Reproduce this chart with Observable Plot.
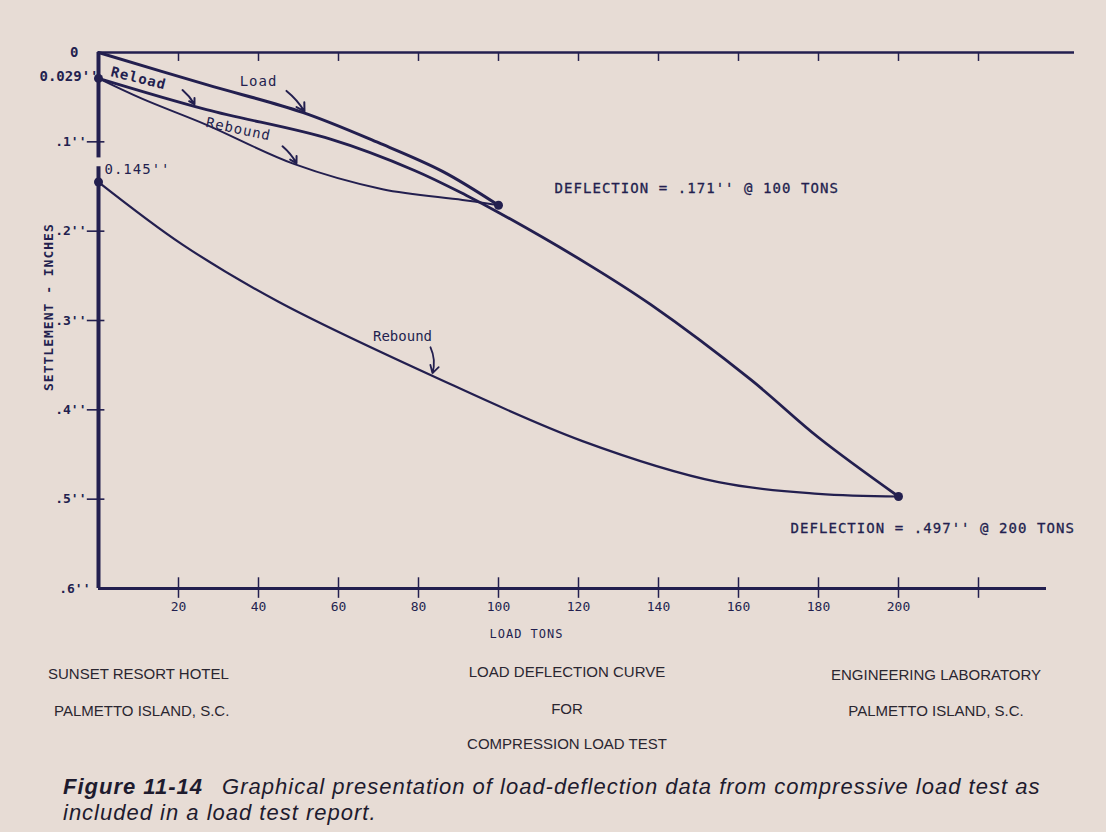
<!DOCTYPE html>
<html>
<head>
<meta charset="utf-8">
<script src="https://cdn.jsdelivr.net/npm/d3@7"></script>
<script src="https://cdn.jsdelivr.net/npm/@observablehq/plot@0.6"></script>
<style>
  html, body { margin: 0; padding: 0; background: #e7dcd5; }
  body { width: 1106px; height: 832px; position: relative; overflow: hidden; }
  #chart { position: absolute; left: 0; top: 0; }
  .blk { position: absolute; font-family: "Liberation Sans", Arial, sans-serif; font-size: 15px; color: #2a2630; white-space: nowrap; }
  .c { transform: translateX(-50%); }
  #caption { position: absolute; left: 63px; top: 774px; font-family: "Liberation Sans", Arial, sans-serif; font-style: italic; font-size: 22px; letter-spacing: 1px; line-height: 26px; color: #1e1b2e; white-space: nowrap; }
  #caption b { font-weight: bold; margin-right: 12px; }
</style>
</head>
<body>
<div id="chart"></div>
<div class="blk" style="left:48px; top:665px;">SUNSET RESORT HOTEL</div>
<div class="blk" style="left:54px; top:702px;">PALMETTO ISLAND, S.C.</div>
<div class="blk c" style="left:567px; top:663px;">LOAD DEFLECTION CURVE</div>
<div class="blk c" style="left:567px; top:700px;">FOR</div>
<div class="blk c" style="left:567px; top:735px;">COMPRESSION LOAD TEST</div>
<div class="blk c" style="left:936px; top:666px;">ENGINEERING LABORATORY</div>
<div class="blk c" style="left:936px; top:702px;">PALMETTO ISLAND, S.C.</div>
<div id="caption"><b>Figure 11-14</b> Graphical presentation of load-deflection data from compressive load test as<br>included in a load test report.</div>
<script>
// ---- data (tons, settlement in inches) ----
const loadTons = [0, 27, 51, 70, 86, 100];
const loadDefl = [0, 0.036, 0.067, 0.101, 0.133, 0.171];

const reloadTons = [0, 27, 58, 79, 92, 100, 122, 138, 163, 180, 200];
const reloadDefl = [0.029, 0.064, 0.097, 0.132, 0.16, 0.179, 0.236, 0.282, 0.366, 0.431, 0.497];

const rebound1Tons = [0, 11, 27, 49, 71, 91, 100];
const rebound1Defl = [0.029, 0.052, 0.081, 0.125, 0.153, 0.165, 0.171];

const rebound2Tons = [0, 21, 45, 83, 121, 155, 180, 200];
const rebound2Defl = [0.145, 0.215, 0.279, 0.361, 0.435, 0.481, 0.494, 0.497];

const keyTons = [0, 0, 100, 200];
const keyDefl = [0.029, 0.145, 0.171, 0.497];

const xTicks = [20, 40, 60, 80, 100, 120, 140, 160, 180, 200, 220];
const xTickLabels = ["20", "40", "60", "80", "100", "120", "140", "160", "180", "200"];
const yTicks = [0.1, 0.2, 0.3, 0.4, 0.5];
const yTickLabels = [".1''", ".2''", ".3''", ".4''", ".5''"];

const ink = "#231f4f";
const mono = "'DejaVu Sans Mono', monospace";

const pts = (xs, ys) => xs.map((x, i) => ({x, y: ys[i]}));

const chart = Plot.plot({
  width: 1106,
  height: 645,
  margin: 0,
  x: {domain: [0, 240], range: [98, 1058], axis: null},
  y: {domain: [0, 0.6], range: [52, 588], axis: null},
  style: {background: "transparent", color: ink, fontFamily: mono, overflow: "visible"},
  marks: [
    // top frame line with ticks
    Plot.ruleY([0], {x1: 0, x2: 244, stroke: ink, strokeWidth: 2.5}),
    Plot.ruleX(xTicks, {x: d => d, y1: 0, y2: 0.01, stroke: ink, strokeWidth: 1.5}),
    // left axis (broken)
    Plot.ruleX([{a: 0, b: 0.118}, {a: 0.128, b: 0.6}], {x: 0, y1: "a", y2: "b", stroke: ink, strokeWidth: 4}),
    Plot.ruleY(yTicks, {y: d => d, x1: -2.8, x2: 1.6, stroke: ink, strokeWidth: 1.6}),
    // bottom axis
    Plot.ruleY([0.6], {x1: 0, x2: 237, stroke: ink, strokeWidth: 3}),
    Plot.ruleX(xTicks, {x: d => d, y1: 0.588, y2: 0.611, stroke: ink, strokeWidth: 1.5}),
    // curves
    Plot.line(pts(rebound1Tons, rebound1Defl), {x: "x", y: "y", curve: "catmull-rom", stroke: ink, strokeWidth: 2}),
    Plot.line(pts(rebound2Tons, rebound2Defl), {x: "x", y: "y", curve: "catmull-rom", stroke: ink, strokeWidth: 2.2}),
    Plot.line(pts(reloadTons, reloadDefl), {x: "x", y: "y", curve: "catmull-rom", stroke: ink, strokeWidth: 2.8}),
    Plot.line(pts(loadTons, loadDefl), {x: "x", y: "y", curve: "catmull-rom", stroke: ink, strokeWidth: 3}),
    Plot.dot(pts(keyTons, keyDefl), {x: "x", y: "y", r: 4.5, fill: ink, stroke: null}),
    // tick labels
    Plot.text(yTickLabels, {x: 0, y: (d, i) => yTicks[i], text: d => d, dx: -12, textAnchor: "end", fontSize: 13, fill: ink, fontWeight: "bold"}),
    Plot.text(["0"], {x: 0, y: 0, text: d => d, dx: -20, textAnchor: "end", fontSize: 14, fill: ink, fontWeight: "bold"}),
    Plot.text([".6''"], {x: 0, y: 0.6, text: d => d, dx: -8, textAnchor: "end", fontSize: 13, fill: ink, fontWeight: "bold"}),
    Plot.text(["0.029''"], {x: 0, y: 0.029, text: d => d, dx: 0, dy: -2, textAnchor: "end", fontSize: 14, fill: ink, fontWeight: "bold"}),
    Plot.text(["0.145''"], {x: 0, y: 0.145, text: d => d, dx: 6, dy: -13, textAnchor: "start", fontSize: 14, fill: ink, className: "ls"}),
    Plot.text(xTickLabels, {x: (d, i) => xTicks[i], y: 0.6, text: d => d, dy: 18, fontSize: 13, fill: ink}),
    Plot.text(["LOAD TONS"], {x: 107, y: 0.6, text: d => d, dy: 46, fontSize: 12, fill: ink, className: "ls"}),
    Plot.text(["SETTLEMENT - INCHES"], {x: -12.3, y: 0.285, text: d => d, rotate: -90, fontSize: 13, fill: ink, fontWeight: "bold", className: "ls"}),
    // curve annotations
    Plot.text(["Load"], {x: 40, y: 0.033, text: d => d, fontSize: 14, fill: ink, className: "ls"}),
    Plot.arrow([{x1: 47, y1: 0.043, x2: 51.5, y2: 0.066}], {x1: "x1", y1: "y1", x2: "x2", y2: "y2", bend: 10, headLength: 9, stroke: ink, strokeWidth: 2}),
    Plot.text(["Reload"], {x: 10, y: 0.029, text: d => d, rotate: 14, fontSize: 14, fill: ink, fontWeight: "bold", className: "ls"}),
    Plot.arrow([{x1: 21, y1: 0.042, x2: 24, y2: 0.058}], {x1: "x1", y1: "y1", x2: "x2", y2: "y2", bend: 10, headLength: 8, stroke: ink, strokeWidth: 2}),
    Plot.text(["Rebound"], {x: 35, y: 0.086, text: d => d, rotate: 12, fontSize: 14, fill: ink, className: "ls"}),
    Plot.arrow([{x1: 46, y1: 0.105, x2: 49.5, y2: 0.124}], {x1: "x1", y1: "y1", x2: "x2", y2: "y2", bend: 10, headLength: 8, stroke: ink, strokeWidth: 2}),
    Plot.text(["Rebound"], {x: 76, y: 0.318, text: d => d, fontSize: 14, fill: ink}),
    Plot.arrow([{x1: 83, y1: 0.33, x2: 83.5, y2: 0.359}], {x1: "x1", y1: "y1", x2: "x2", y2: "y2", bend: 20, headLength: 8, stroke: ink, strokeWidth: 1.8}),
    Plot.text(["DEFLECTION = .171'' @ 100 TONS"], {x: 114, y: 0.152, text: d => d, textAnchor: "start", fontSize: 14, fill: ink, className: "ls2"}),
    Plot.text(["DEFLECTION = .497'' @ 200 TONS"], {x: 173, y: 0.533, text: d => d, textAnchor: "start", fontSize: 14, fill: ink, className: "ls2"})
  ]
});
chart.querySelectorAll(".ls text").forEach(t => t.style.letterSpacing = "1px");
chart.querySelectorAll(".ls2 text").forEach(t => { t.style.letterSpacing = "1.05px"; t.style.stroke = ink; t.style.strokeWidth = "0.3px"; });
document.getElementById("chart").appendChild(chart);
</script>
</body>
</html>
